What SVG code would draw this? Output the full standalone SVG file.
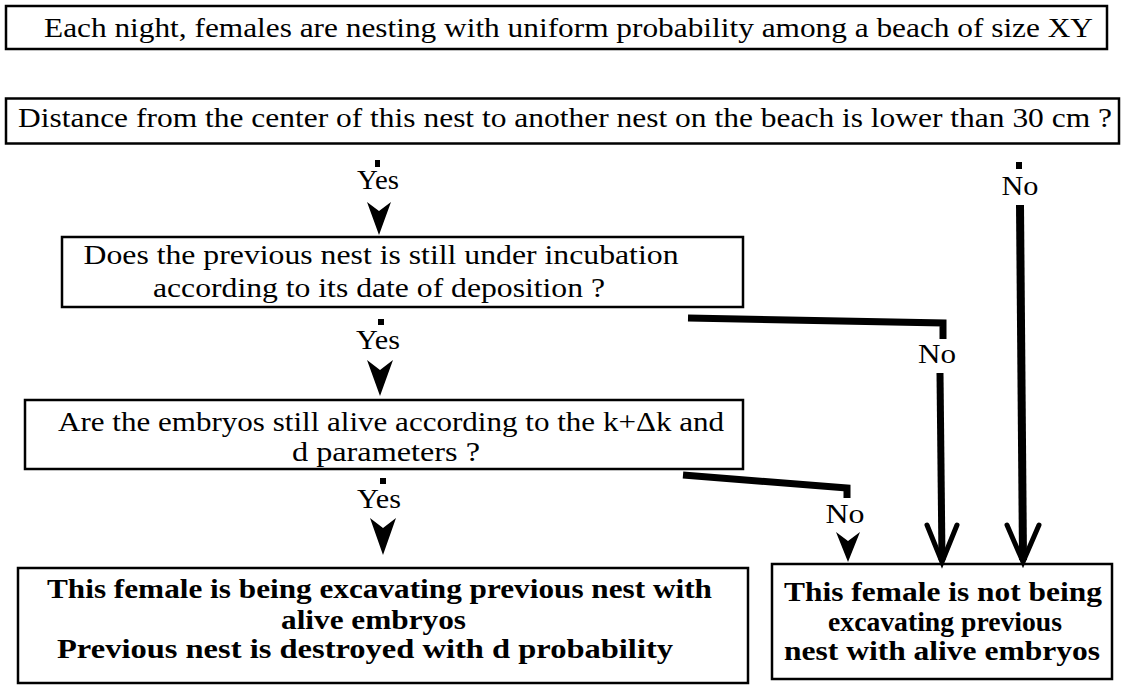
<svg xmlns="http://www.w3.org/2000/svg" width="1122" height="685" viewBox="0 0 1122 685">
<style>
.box{fill:#fff;stroke:#000;stroke-width:2.5}
.t{font-family:"Liberation Serif","Times New Roman",serif;font-size:28px;fill:#000}
.b{font-weight:bold}
.m{text-anchor:middle}
.ln{stroke:#000;stroke-width:7;fill:none;stroke-linejoin:miter;stroke-linecap:butt}
.arm{stroke:#000;stroke-width:5;fill:none;stroke-linecap:round}
.ah{fill:#000}
</style>
<rect width="1122" height="685" fill="#fff"/>
<g id="n1">
<rect class="box" x="6" y="6" width="1101" height="43"/>
<text class="t" x="44" y="37" textLength="1049" lengthAdjust="spacingAndGlyphs">Each night, females are nesting with uniform probability among a beach of size XY</text>
</g>
<g id="n2">
<rect class="box" x="6" y="98.5" width="1113" height="45"/>
<text class="t" x="18" y="127" textLength="1094" lengthAdjust="spacingAndGlyphs">Distance from the center of this nest to another nest on the beach is lower than 30 cm ?</text>
</g>
<g id="n3">
<rect class="box" x="62" y="237" width="681" height="70"/>
<text class="t m" x="381" y="264" textLength="595" lengthAdjust="spacingAndGlyphs">Does the previous nest is still under incubation</text>
<text class="t m" x="379" y="297" textLength="452" lengthAdjust="spacingAndGlyphs">according to its date of deposition ?</text>
</g>
<g id="n4">
<rect class="box" x="25" y="400" width="718" height="69"/>
<text class="t" x="58" y="431" textLength="666" lengthAdjust="spacingAndGlyphs">Are the embryos still alive according to the k+Δk and</text>
<text class="t" x="292" y="461" textLength="188" lengthAdjust="spacingAndGlyphs">d parameters ?</text>
</g>
<g id="n5">
<rect class="box" x="18" y="568" width="730" height="115"/>
<text class="t b" x="47" y="598" textLength="665" lengthAdjust="spacingAndGlyphs">This female is being excavating previous nest with</text>
<text class="t b" x="281" y="629" textLength="185" lengthAdjust="spacingAndGlyphs">alive embryos</text>
<text class="t b" x="57" y="658" textLength="616" lengthAdjust="spacingAndGlyphs">Previous nest is destroyed with  d probability</text>
</g>
<g id="n6">
<rect class="box" x="772" y="564" width="340" height="115"/>
<text class="t b" x="784" y="601" textLength="318" lengthAdjust="spacingAndGlyphs">This female is not being</text>
<text class="t b" x="828" y="631" textLength="234" lengthAdjust="spacingAndGlyphs">excavating previous</text>
<text class="t b" x="784" y="660" textLength="316" lengthAdjust="spacingAndGlyphs">nest with alive embryos</text>
</g>
<g id="connectors">
<rect class="ah" x="375" y="160" width="5" height="7"/>
<text class="t m" x="378" y="189" textLength="42" lengthAdjust="spacingAndGlyphs">Yes</text>
<polygon class="ah" points="367,202 379,211 391,202 379,235"/>
<rect class="ah" x="378" y="319" width="6" height="6"/>
<text class="t m" x="378" y="349" textLength="44" lengthAdjust="spacingAndGlyphs">Yes</text>
<polygon class="ah" points="367,360 380,370 393,360 380,396"/>
<rect class="ah" x="380" y="478" width="6" height="6"/>
<text class="t m" x="379" y="508" textLength="44" lengthAdjust="spacingAndGlyphs">Yes</text>
<polygon class="ah" points="370,518 383,528 396,518 383,555"/>
<rect class="ah" x="1016" y="162" width="6" height="7"/>
<text class="t m" x="1020" y="195" textLength="37" lengthAdjust="spacingAndGlyphs">No</text>
<line class="ln" x1="1020" y1="205" x2="1023" y2="560" style="stroke-width:8"/>
<polyline class="arm" points="1007,525 1023,562 1039,525"/>
<polyline class="ln" points="688,318 943,323 943,339"/>
<text class="t m" x="937" y="363" textLength="38" lengthAdjust="spacingAndGlyphs">No</text>
<line class="ln" x1="940" y1="373" x2="942" y2="560"/>
<polyline class="arm" points="927,525 942,562 957,525"/>
<polyline class="ln" points="683,475 847,488 847,498"/>
<text class="t m" x="845" y="523" textLength="39" lengthAdjust="spacingAndGlyphs">No</text>
<polygon class="ah" points="836,532 848,541 860,532 848,562"/>
</g>
</svg>
